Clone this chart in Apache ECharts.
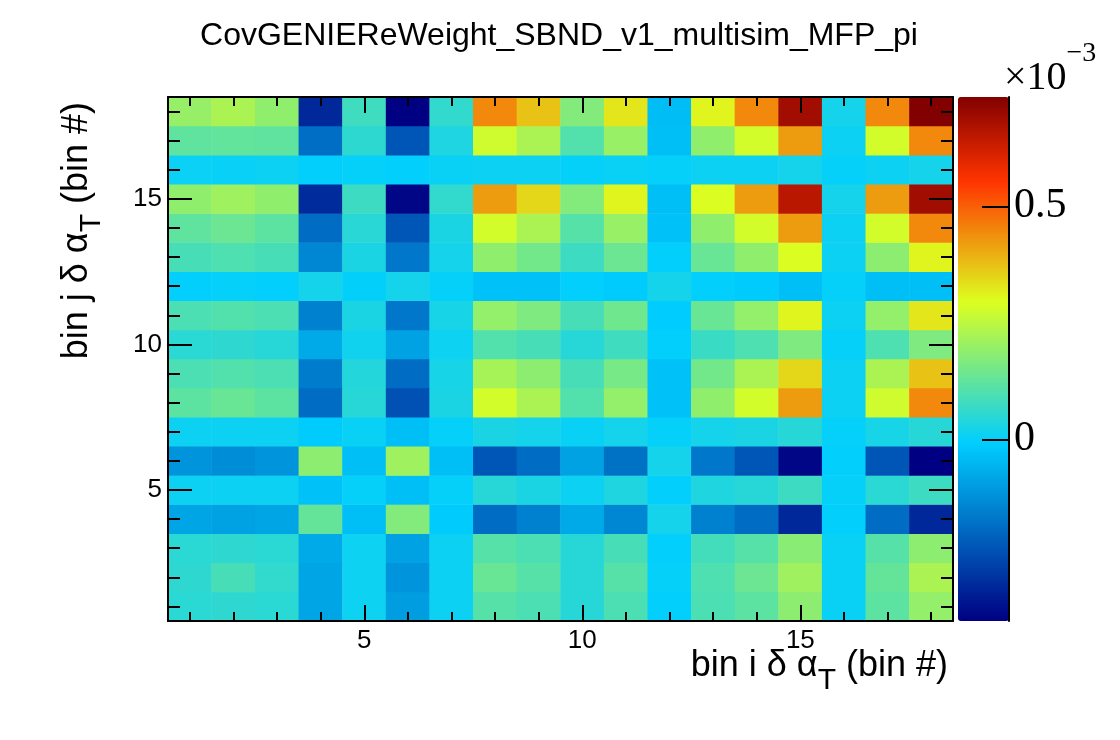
<!DOCTYPE html>
<html>
<head>
<meta charset="utf-8">
<title>CovGENIEReWeight_SBND_v1_multisim_MFP_pi</title>
<script src="https://cdn.jsdelivr.net/npm/echarts@6/dist/echarts.min.js"></script>
<style>
    html, body { margin: 0; padding: 0; background: #fff; }
    #chart { width: 1120px; height: 740px; }
</style>
</head>
<body>
<div id="chart"></div>
<script>
// bin numbers along both axes
const binsI = [1, 2, 3, 4, 5, 6, 7, 8, 9, 10, 11, 12, 13, 14, 15, 16, 17, 18];
const binsJ = [1, 2, 3, 4, 5, 6, 7, 8, 9, 10, 11, 12, 13, 14, 15, 16, 17, 18];
const majorTicks = [5, 10, 15];
const zTicks = [0, 0.5];

// covariance, in units of 1e-3; one row per bin j (j = 1 at the bottom), columns bin i = 1..18
const covRows = [
    [0.05, 0.055, 0.05, -0.085, 0.012, -0.10, 0.01, 0.11, 0.095, 0.045, 0.095, -0.005, 0.095, 0.12, 0.185, 0.005, 0.12, 0.195],
    [0.055, 0.09, 0.06, -0.085, 0.012, -0.115, 0.01, 0.135, 0.11, 0.045, 0.11, 0.0, 0.10, 0.14, 0.21, 0.005, 0.13, 0.225],
    [0.05, 0.055, 0.05, -0.075, 0.012, -0.09, 0.01, 0.11, 0.095, 0.045, 0.09, -0.005, 0.085, 0.11, 0.18, 0.005, 0.11, 0.185],
    [-0.085, -0.09, -0.085, 0.13, -0.035, 0.17, -0.015, -0.19, -0.15, -0.075, -0.14, 0.02, -0.15, -0.19, -0.316, -0.005, -0.19, -0.316],
    [0.01, 0.01, 0.01, -0.03, 0.0, -0.035, 0.0, 0.045, 0.03, 0.01, 0.035, -0.005, 0.035, 0.045, 0.075, 0.0, 0.05, 0.075],
    [-0.115, -0.13, -0.115, 0.185, -0.035, 0.21, -0.035, -0.23, -0.19, -0.09, -0.18, 0.02, -0.17, -0.23, -0.38, -0.005, -0.23, -0.39],
    [0.01, 0.01, 0.01, -0.015, 0.005, -0.035, 0.0, 0.03, 0.02, 0.005, 0.02, 0.0, 0.02, 0.03, 0.045, 0.0, 0.025, 0.045],
    [0.12, 0.135, 0.12, -0.19, 0.045, -0.24, 0.03, 0.28, 0.225, 0.105, 0.195, -0.03, 0.19, 0.28, 0.423, 0.01, 0.275, 0.448],
    [0.095, 0.105, 0.095, -0.16, 0.04, -0.19, 0.025, 0.22, 0.185, 0.09, 0.155, -0.03, 0.15, 0.225, 0.347, 0.01, 0.225, 0.372],
    [0.05, 0.055, 0.045, -0.075, 0.015, -0.09, 0.012, 0.105, 0.09, 0.045, 0.08, -0.005, 0.07, 0.10, 0.165, 0.0, 0.10, 0.165],
    [0.095, 0.105, 0.095, -0.15, 0.03, -0.17, 0.025, 0.195, 0.165, 0.09, 0.145, -0.01, 0.135, 0.195, 0.31, 0.01, 0.195, 0.327],
    [-0.005, 0.0, -0.005, 0.02, -0.003, 0.02, 0.0, -0.03, -0.03, -0.005, -0.015, 0.02, -0.005, -0.015, -0.035, 0.0, -0.035, -0.035],
    [0.09, 0.10, 0.09, -0.14, 0.03, -0.17, 0.02, 0.19, 0.15, 0.075, 0.14, -0.005, 0.135, 0.19, 0.295, 0.01, 0.185, 0.31],
    [0.123, 0.14, 0.12, -0.19, 0.048, -0.23, 0.03, 0.28, 0.225, 0.11, 0.20, -0.03, 0.19, 0.28, 0.423, 0.01, 0.28, 0.448],
    [0.19, 0.21, 0.19, -0.31, 0.075, -0.38, 0.06, 0.423, 0.347, 0.17, 0.31, -0.035, 0.295, 0.423, 0.655, 0.02, 0.423, 0.69],
    [0.006, 0.003, 0.008, -0.005, 0.0, -0.005, 0.005, 0.01, 0.01, 0.0, 0.005, 0.0, 0.01, 0.01, 0.02, 0.0, 0.01, 0.02],
    [0.123, 0.126, 0.123, -0.187, 0.054, -0.23, 0.033, 0.275, 0.225, 0.105, 0.20, -0.035, 0.19, 0.28, 0.423, 0.01, 0.28, 0.448],
    [0.198, 0.225, 0.19, -0.316, 0.08, -0.39, 0.06, 0.448, 0.372, 0.17, 0.327, -0.038, 0.31, 0.448, 0.69, 0.02, 0.448, 0.735]
];

const zMin = -0.39;
const zMax = 0.735;

// ROOT style rainbow palette stops
const palStops = [0.00, 0.34, 0.61, 0.84, 1.00];
const palRed = [0.00, 0.00, 0.87, 1.00, 0.51];
const palGreen = [0.00, 0.81, 1.00, 0.20, 0.00];
const palBlue = [0.51, 1.00, 0.12, 0.00, 0.00];

function paletteColor(t) {
    let k = 0;
    while (k < palStops.length - 2 && t > palStops[k + 1]) k++;
    let f = (t - palStops[k]) / (palStops[k + 1] - palStops[k]);
    let c = (arr) => Math.round(255 * (arr[k] + f * (arr[k + 1] - arr[k])));
    return 'rgb(' + c(palRed) + ',' + c(palGreen) + ',' + c(palBlue) + ')';
}

let palette = [];
for (let k = 0; k < 128; k++) palette.push(paletteColor(k / 127));

let cells = [];
binsJ.forEach((j, jy) => {
    binsI.forEach((i, ix) => {
        cells.push([ix, jy, covRows[jy][ix]]);
    });
});

const sans = 'Liberation Sans';
const serif = 'Liberation Serif';
const black = '#000';

// value axis that only draws the frame edge and/or inward ticks
function tickAxis(isX, position, ticks, len, withLine, labels) {
    let ax = {
        type: 'value',
        gridIndex: 0,
        position: position,
        min: 0.5,
        max: 18.5,
        z: 10,
        axisLine: { show: withLine, lineStyle: { color: black, width: 2 } },
        axisTick: { show: true, inside: true, length: len, customValues: ticks, lineStyle: { color: black, width: 2 } },
        axisLabel: { show: false },
        splitLine: { show: false }
    };
    if (labels) {
        ax.axisLabel = {
            show: true,
            customValues: labels,
            color: black,
            fontFamily: sans,
            fontSize: 26,
            margin: isX ? 7 : 6
        };
    }
    return ax;
}

let chart = echarts.init(document.getElementById('chart'));
let option = {
    animation: false,
    backgroundColor: '#fff',
    grid: { left: 168, top: 97, width: 785, height: 524 },
    xAxis: [
        { type: 'category', data: binsI, show: false },
        tickAxis(true, 'bottom', binsI, 9, true, majorTicks),
        tickAxis(true, 'bottom', majorTicks, 16, false, null),
        tickAxis(true, 'top', binsI, 9, true, null),
        tickAxis(true, 'top', majorTicks, 16, false, null)
    ],
    yAxis: [
        { type: 'category', data: binsJ, show: false },
        tickAxis(false, 'left', binsJ, 12, true, majorTicks),
        tickAxis(false, 'left', majorTicks, 24, false, null),
        tickAxis(false, 'right', binsJ, 12, true, null),
        tickAxis(false, 'right', majorTicks, 24, false, null),
        {
            // colour scale axis, on the right edge of the colour bar
            type: 'value',
            position: 'right',
            offset: 56,
            min: zMin,
            max: zMax,
            z: 10,
            axisLine: { show: true, lineStyle: { color: black, width: 2 } },
            axisTick: { show: true, inside: true, length: 27, customValues: zTicks, lineStyle: { color: black, width: 2 } },
            axisLabel: { show: true, customValues: zTicks, color: black, fontFamily: serif, fontSize: 42, margin: 5 },
            splitLine: { show: false }
        }
    ],
    visualMap: {
        type: 'continuous',
        min: zMin,
        max: zMax,
        seriesIndex: 0,
        left: 958,
        top: 97,
        padding: 0,
        itemWidth: 51,
        itemHeight: 524,
        calculable: false,
        hoverLink: false,
        z: 2,
        inRange: { color: palette }
    },
    series: [{
        type: 'heatmap',
        xAxisIndex: 0,
        yAxisIndex: 0,
        data: cells,
        progressive: 0,
        emphasis: { disabled: true }
    }],
    graphic: [
        {
            type: 'text',
            x: 559,
            y: 20,
            style: {
                text: 'CovGENIEReWeight_SBND_v1_multisim_MFP_pi',
                fill: black,
                fontFamily: sans,
                fontSize: 32,
                align: 'center',
                verticalAlign: 'top'
            }
        },
        {
            type: 'text',
            x: 948,
            y: 648,
            style: {
                text: '{a|bin i δ α}{s|T}{a| (bin #)}',
                fill: black,
                align: 'right',
                verticalAlign: 'top',
                rich: {
                    a: { fontFamily: sans, fontSize: 36, verticalAlign: 'top' },
                    s: { fontFamily: sans, fontSize: 30, verticalAlign: 'top', padding: [18, 0, 0, 0] }
                }
            }
        },
        {
            type: 'text',
            x: 59,
            y: 102,
            rotation: Math.PI / 2,
            style: {
                text: '{a|bin j δ α}{s|T}{a| (bin #)}',
                fill: black,
                align: 'right',
                verticalAlign: 'top',
                rich: {
                    a: { fontFamily: sans, fontSize: 36, verticalAlign: 'top' },
                    s: { fontFamily: sans, fontSize: 30, verticalAlign: 'top', padding: [18, 0, 0, 0] }
                }
            }
        },
        {
            type: 'text',
            x: 1004,
            y: 40,
            style: {
                text: '{a|×10}{b|−3}',
                fill: black,
                align: 'left',
                verticalAlign: 'top',
                rich: {
                    a: { fontFamily: serif, fontSize: 40, verticalAlign: 'top', padding: [18, 0, 0, 0] },
                    b: { fontFamily: serif, fontSize: 28, verticalAlign: 'top' }
                }
            }
        }
    ]
};
chart.setOption(option);
</script>
</body>
</html>
